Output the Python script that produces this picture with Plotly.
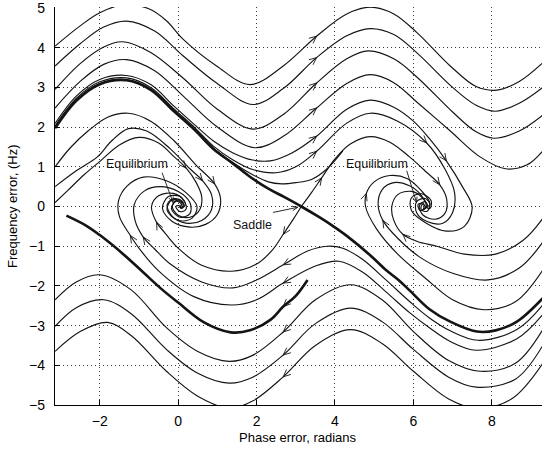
import math
import plotly.graph_objects as go

# ---------------- data (phase in rad, frequency error in Hz) ----------------
X_TICKS = [-2, 0, 2, 4, 6, 8]
Y_TICKS = [-5, -4, -3, -2, -1, 0, 1, 2, 3, 4, 5]
X_MIN, X_MAX = -math.pi, 9.28
Y_MIN, Y_MAX = -5, 5.025

# upper family (phase increasing)
A = [(-3.14, 4.04), (-2.5, 4.55), (-2.0, 4.88), (-1.4, 5.08), (-0.75, 4.98), (-0.3, 4.68), (0.13, 4.21),
     (0.98, 3.54), (1.83, 3.07), (2.68, 3.54), (3.53, 4.29), (4.3, 4.85), (4.9, 5.02), (5.5, 4.85),
     (6.09, 4.38), (6.94, 3.54), (7.6, 3.02), (8.13, 2.93), (8.7, 3.15), (9.3, 3.62)]
B = [(-3.14, 3.54), (-2.5, 4.1), (-1.9, 4.52), (-1.32, 4.67), (-0.6, 4.42), (0.13, 3.79), (0.98, 3.11),
     (1.91, 2.57), (2.68, 2.97), (3.53, 3.75), (4.3, 4.3), (4.9, 4.48), (5.5, 4.33), (6.09, 3.87),
     (7.0, 3.0), (7.6, 2.55), (8.1, 2.4), (8.7, 2.6), (9.3, 3.0)]
C = [(-3.14, 2.95), (-2.5, 3.6), (-1.9, 4.02), (-1.42, 4.15), (-0.7, 3.88), (0.13, 3.23), (1.0, 2.45),
     (1.91, 1.95), (2.7, 2.33), (3.53, 3.11), (4.3, 3.72), (4.85, 3.92), (5.5, 3.72), (6.1, 3.25),
     (7.0, 2.38), (7.6, 1.88), (8.05, 1.72), (8.7, 1.9), (9.3, 2.3)]
D = [(-3.14, 2.48), (-2.5, 3.15), (-1.9, 3.58), (-1.32, 3.7), (-0.6, 3.42), (0.13, 2.78), (1.0, 2.0),
     (1.95, 1.48), (2.7, 1.78), (3.53, 2.48), (4.3, 3.1), (4.9, 3.32), (5.5, 3.12), (6.1, 2.62),
     (6.92, 1.92), (7.7, 1.25), (8.35, 0.95), (8.9, 1.05), (9.3, 1.4)]
E1 = [(-3.14, 2.09), (-2.6, 2.78), (-2.0, 3.2), (-1.32, 3.3), (-0.7, 3.07), (-0.1, 2.52), (0.43, 2.05),
      (0.9, 1.65), (1.4, 1.35), (1.9, 1.17), (2.35, 1.15), (2.9, 1.35), (3.53, 1.77), (4.3, 2.45),
      (4.9, 2.68), (5.5, 2.5), (6.0, 2.15), (6.4, 1.72), (6.84, 1.15), (7.25, 0.5), (7.5, -0.02),
      (7.3, -0.5), (6.84, -0.62), (6.33, -0.42), (5.95, -0.1), (5.95, 0.22), (6.2, 0.32),
      (6.45, 0.15), (6.42, -0.05), (6.3, 0.0)]
E2 = [(-3.14, 2.03), (-2.6, 2.72), (-2.0, 3.14), (-1.32, 3.24), (-0.7, 3.0), (-0.1, 2.45), (0.43, 1.98),
      (0.9, 1.52), (1.4, 1.17), (1.9, 0.93), (2.5, 0.85), (3.0, 1.0), (3.53, 1.39), (4.3, 2.1),
      (4.9, 2.35), (5.6, 2.15), (6.34, 1.6), (6.8, 0.95), (7.05, 0.35), (7.0, -0.15), (6.75, -0.42),
      (6.35, -0.38), (6.08, -0.15), (6.08, 0.12), (6.3, 0.2), (6.42, 0.05), (6.32, -0.02)]
E3 = [(-3.14, 1.99), (-2.6, 2.68), (-2.0, 3.1), (-1.32, 3.2), (-0.7, 2.96), (-0.1, 2.41), (0.43, 1.94),
      (0.9, 1.47), (1.4, 1.1), (1.9, 0.8), (2.3, 0.62), (2.64, 0.57), (3.0, 0.6), (3.4, 0.68),
      (3.8, 0.95), (4.2, 1.4)]
K1 = [(-3.14, 1.0), (-2.75, 1.48), (-2.3, 1.9), (-1.8, 2.25), (-1.27, 2.35), (-0.7, 2.15), (-0.1, 1.65),
      (0.45, 1.05), (0.93, 0.57), (1.08, 0.2), (1.0, -0.2), (0.7, -0.45), (0.3, -0.52), (-0.15, -0.38),
      (-0.4, -0.05), (-0.25, 0.25), (0.05, 0.25), (0.18, 0.05), (0.08, -0.05), (0.03, 0.0)]
K2 = [(-3.14, 0.5), (-2.6, 0.9), (-2.06, 1.25), (-1.7, 1.65), (-1.27, 1.96), (-0.8, 1.9), (-0.2, 1.45),
      (0.3, 0.95), (0.62, 0.65), (0.85, 0.3), (0.85, -0.08), (0.6, -0.35), (0.2, -0.42), (-0.15, -0.25),
      (-0.28, 0.05), (-0.1, 0.2), (0.12, 0.12), (0.1, -0.03), (0.04, 0.0)]
K3 = [(-3.14, 0.1), (-2.82, 0.4), (-2.4, 0.8), (-1.98, 1.15), (-1.5, 1.55), (-1.0, 1.74), (-0.5, 1.6),
      (-0.1, 1.25), (0.2, 0.97), (0.45, 0.62), (0.6, 0.25), (0.55, -0.08), (0.3, -0.27), (0.0, -0.22),
      (-0.15, 0.0), (-0.05, 0.15), (0.1, 0.08), (0.06, 0.0)]
U = [(3.14, 0.0), (3.4, 0.35), (3.66, 0.72), (4.0, 1.2), (4.4, 1.58), (4.9, 1.76), (5.4, 1.62),
     (5.9, 1.25), (6.35, 0.85), (6.67, 0.55), (6.85, 0.18), (6.8, -0.18), (6.55, -0.32),
     (6.25, -0.22), (6.15, 0.02), (6.3, 0.12), (6.36, 0.0), (6.3, -0.02)]

# separatrices (thick)
SEP_MAIN = [(-3.14, 1.97), (-2.6, 2.66), (-2.0, 3.08), (-1.32, 3.18), (-0.7, 2.94), (-0.1, 2.39),
            (0.43, 1.92), (0.9, 1.45), (1.4, 1.08), (1.83, 0.75), (2.3, 0.45), (2.7, 0.24), (3.14, 0.0),
            (3.6, -0.27), (3.96, -0.5), (4.3, -0.74), (4.89, -1.22), (5.3, -1.6), (5.62, -1.85),
            (5.91, -2.12), (6.4, -2.58), (6.94, -2.9), (7.62, -3.15), (8.1, -3.12), (8.64, -2.9),
            (9.3, -2.31)]
SEP_LOW = [(3.3, -1.85), (3.0, -2.25), (2.68, -2.52), (2.36, -2.85), (1.83, -3.12), (1.34, -3.17),
           (0.66, -2.92), (0.0, -2.42), (-0.4, -2.1), (-0.9, -1.65), (-1.4, -1.2), (-2.0, -0.72),
           (-2.35, -0.48), (-2.85, -0.23)]

# lower family (phase decreasing)
M1 = [(3.14, 0.0), (2.95, -0.3), (2.68, -0.7), (2.4, -1.1), (2.0, -1.45), (1.36, -1.63), (0.6, -1.48),
      (0.0, -1.05), (-0.35, -0.65), (-0.55, -0.4), (-0.68, 0.0), (-0.5, 0.27), (-0.13, 0.33),
      (0.15, 0.15), (0.2, -0.07), (0.05, -0.13), (-0.06, 0.0), (0.04, 0.03)]
M2 = [(9.3, -2.48), (8.64, -3.1), (7.65, -3.37), (6.94, -3.13), (6.4, -2.8), (5.91, -2.4), (5.3, -1.85),
      (4.7, -1.33), (4.2, -1.05), (3.8, -1.0), (3.3, -1.12), (2.68, -1.47), (2.0, -1.85), (1.4, -2.05),
      (0.6, -1.9), (-0.2, -1.45), (-0.6, -1.07), (-0.89, -0.77), (-1.1, -0.35), (-1.12, 0.05),
      (-0.85, 0.4), (-0.46, 0.5), (0.0, 0.38), (0.3, 0.1), (0.3, -0.18), (0.05, -0.27),
      (-0.17, -0.06), (-0.06, 0.13), (0.08, 0.06), (0.05, -0.01)]
M3 = [(9.3, -2.72), (8.64, -3.33), (7.6, -3.62), (6.94, -3.4), (6.4, -3.05), (5.91, -2.68), (5.3, -2.15),
      (4.7, -1.65), (4.1, -1.38), (3.5, -1.5), (2.68, -1.93), (2.0, -2.35), (1.35, -2.48), (0.4, -2.27),
      (-0.5, -1.62), (-1.0, -1.05), (-1.22, -0.73), (-1.5, -0.25), (-1.52, 0.15), (-1.3, 0.52),
      (-0.89, 0.74), (-0.3, 0.65), (0.2, 0.35), (0.48, 0.0), (0.35, -0.3), (0.0, -0.35),
      (-0.28, -0.1), (-0.18, 0.15), (0.05, 0.15), (0.15, 0.02), (0.05, -0.03)]
L1 = [(9.3, -3.1), (8.6, -3.95), (7.7, -4.15), (6.9, -3.88), (6.0, -3.15), (5.2, -2.35), (4.4, -1.97),
      (3.5, -2.35), (2.68, -3.16), (1.9, -3.75), (1.3, -3.9), (0.5, -3.65), (-0.3, -3.05), (-1.2, -2.1),
      (-2.0, -1.72), (-2.6, -1.9), (-3.14, -2.35)]
L2 = [(9.3, -3.5), (8.6, -4.35), (7.6, -4.55), (6.9, -4.3), (6.0, -3.6), (5.2, -2.9), (4.4, -2.56),
      (3.5, -2.95), (2.68, -3.74), (1.9, -4.3), (1.3, -4.45), (0.5, -4.2), (-0.3, -3.6), (-1.2, -2.7),
      (-1.9, -2.35), (-2.6, -2.55), (-3.14, -3.02)]
L3 = [(9.3, -3.95), (8.5, -4.85), (7.6, -5.08), (6.9, -4.85), (6.0, -4.15), (5.2, -3.45), (4.4, -3.1),
      (3.5, -3.5), (2.68, -4.29), (1.9, -4.9), (1.3, -5.08), (0.5, -4.78), (-0.3, -4.15), (-1.2, -3.25),
      (-1.8, -2.92), (-2.5, -3.15), (-3.14, -3.65)]
R0 = [(9.3, -0.3), (8.8, -0.85), (8.1, -1.2), (7.3, -1.2), (6.6, -1.0), (6.1, -0.88), (5.73, -0.7),
      (5.5, -0.35), (5.45, 0.0), (5.6, 0.3), (5.95, 0.38), (6.25, 0.2), (6.35, 0.0), (6.25, -0.08),
      (6.28, 0.0)]
R1 = [(9.3, -0.9), (8.7, -1.55), (7.9, -1.85), (7.0, -1.68), (6.2, -1.3), (5.6, -0.8), (5.22, -0.35),
      (5.1, 0.05), (5.2, 0.42), (5.5, 0.6), (5.9, 0.52), (6.2, 0.28), (6.32, 0.0), (6.17, -0.1),
      (6.12, 0.05), (6.25, 0.08), (6.28, 0.0)]
R2 = [(9.3, -1.6), (8.6, -2.4), (7.8, -2.6), (7.0, -2.35), (6.3, -1.8), (5.6, -1.2), (5.05, -0.55),
      (4.78, 0.0), (4.8, 0.33), (5.0, 0.62), (5.4, 0.78), (5.85, 0.7), (6.2, 0.4), (6.42, 0.08),
      (6.35, -0.12), (6.2, -0.08), (6.22, 0.05), (6.3, 0.02)]

THIN = {"A": A, "B": B, "C": C, "D": D, "E1": E1, "E2": E2, "E3": E3, "K1": K1, "K2": K2, "K3": K3,
        "U": U, "M1": M1, "M2": M2, "M3": M3, "L1": L1, "L2": L2, "L3": L3, "R0": R0, "R1": R1, "R2": R2}
THICK = {"SEP_MAIN": SEP_MAIN, "SEP_LOW": SEP_LOW}

# arrowheads: (curve, vertex x, vertex y) – direction follows the curve
ARROWS = [("A", 3.53, 4.29), ("B", 3.53, 3.75), ("C", 3.53, 3.11), ("D", 3.53, 2.48),
          ("E1", 3.53, 1.77), ("E2", 3.53, 1.39), ("U", 3.66, 0.72),
          ("E2", 6.34, 1.6), ("E1", 6.84, 1.15), ("U", 6.67, 0.55),
          ("K1", 0.93, 0.57), ("K2", 0.62, 0.65), ("K3", 0.2, 0.97),
          ("M1", 2.68, -0.7), ("M2", 2.68, -1.47), ("M3", 2.68, -1.93), ("SEP_LOW", 2.68, -2.52),
          ("L1", 2.68, -3.16), ("L2", 2.68, -3.74), ("L3", 2.68, -4.29),
          ("M1", -0.55, -0.4), ("M2", -0.89, -0.77), ("M3", -1.22, -0.73),
          ("R2", 4.8, 0.33), ("R1", 5.22, -0.35), ("R0", 5.73, -0.7)]

LABELS = [("Equilibrium", -1.05, 1.06), ("Equilibrium", 5.06, 1.06), ("Saddle", 1.9, -0.47)]
POINTERS = [((-0.41, 0.85), (-0.13, 0.1)), ((5.83, 0.9), (6.08, 0.1)), ((2.42, -0.15), (3.05, -0.02))]
X_TITLE = "Phase error, radians"
Y_TITLE = "Frequency error, (Hz)"

# ---------------- figure ----------------
W, H = 542, 449
ML, MR, MT, MB = 55, 0, 7, 44
PW, PH = W - ML - MR, H - MT - MB
SX = PW / (X_MAX - X_MIN)
SY = PH / (Y_MAX - Y_MIN)
INK = "#141414"
FONT = "Liberation Sans, Arial, sans-serif"


def vhead(tip, d, length=8.0, ang=24.0):
    ux, uy = d[0] * SX, d[1] * SY
    n = math.hypot(ux, uy) or 1.0
    ux, uy = ux / n, uy / n
    a = math.radians(ang)
    xs, ys = [], []
    for s in (1, -1):
        c, sn = math.cos(a), math.sin(s * a)
        wx = -(ux * c - uy * sn)
        wy = -(ux * sn + uy * c)
        xs.append(tip[0] + wx * length / SX)
        ys.append(tip[1] + wy * length / SY)
    return [xs[0], tip[0], xs[1], None], [ys[0], tip[1], ys[1], None]


fig = go.Figure()
for name, pts in THIN.items():
    fig.add_trace(go.Scatter(x=[p[0] for p in pts], y=[p[1] for p in pts], mode="lines",
                             line=dict(color=INK, width=1.15, shape="spline", smoothing=1.0),
                             hoverinfo="skip", showlegend=False))
for name, pts in THICK.items():
    fig.add_trace(go.Scatter(x=[p[0] for p in pts], y=[p[1] for p in pts], mode="lines",
                             line=dict(color=INK, width=2.6, shape="spline", smoothing=1.0),
                             hoverinfo="skip", showlegend=False))

allc = dict(THIN)
allc.update(THICK)
hx, hy = [], []
for cname, ax_, ay_ in ARROWS:
    pts = allc[cname]
    i = min(range(len(pts)), key=lambda k: (pts[k][0] - ax_) ** 2 + (pts[k][1] - ay_) ** 2)
    p0 = pts[max(i - 1, 0)]
    p1 = pts[min(i + 1, len(pts) - 1)]
    xs, ys = vhead(pts[i], (p1[0] - p0[0], p1[1] - p0[1]))
    hx += xs
    hy += ys
for (t, h) in POINTERS:
    hx += [t[0], h[0], None]
    hy += [t[1], h[1], None]
    xs, ys = vhead(h, (h[0] - t[0], h[1] - t[1]), length=6, ang=22)
    hx += xs
    hy += ys
fig.add_trace(go.Scatter(x=hx, y=hy, mode="lines", line=dict(color=INK, width=0.9),
                         hoverinfo="skip", showlegend=False))

for txt, x, y in LABELS:
    fig.add_annotation(x=x, y=y, text=txt, showarrow=False, xanchor="center", yanchor="middle",
                       font=dict(family=FONT, size=12.5, color=INK))

fig.add_annotation(xref="paper", yref="paper", x=0.499, y=0, yshift=-32, text=X_TITLE, showarrow=False,
                   xanchor="center", yanchor="middle", font=dict(family=FONT, size=13, color="#000"))
fig.add_annotation(xref="paper", yref="paper", x=0, y=0.5, xshift=-43, text=Y_TITLE, showarrow=False,
                   textangle=-90, xanchor="center", yanchor="middle",
                   font=dict(family=FONT, size=13, color="#000"))

axis_common = dict(showline=True, linecolor="#000", linewidth=1.4, ticks="inside", ticklen=5,
                   tickcolor="#000", tickwidth=1, showgrid=True, gridcolor="#3a3a3a", gridwidth=1,
                   griddash="1px,3px", zeroline=False, mirror=False, automargin=False,
                   ticklabeloverflow="allow",
                   tickfont=dict(family=FONT, size=14, color="#000"))
fig.update_layout(
    width=W, height=H, margin=dict(l=ML, r=MR, t=MT, b=MB, pad=0, autoexpand=False),
    paper_bgcolor="white", plot_bgcolor="white",
    xaxis=dict(range=[X_MIN, X_MAX], tickvals=X_TICKS, ticklabelstandoff=3, **axis_common),
    yaxis=dict(range=[Y_MIN, Y_MAX], tickvals=Y_TICKS, ticklabelstandoff=6, **axis_common),
)
fig.write_html("out.html", config={"displayModeBar": False},
               post_script="document.body.style.margin='0px';document.body.style.overflow='hidden';")
